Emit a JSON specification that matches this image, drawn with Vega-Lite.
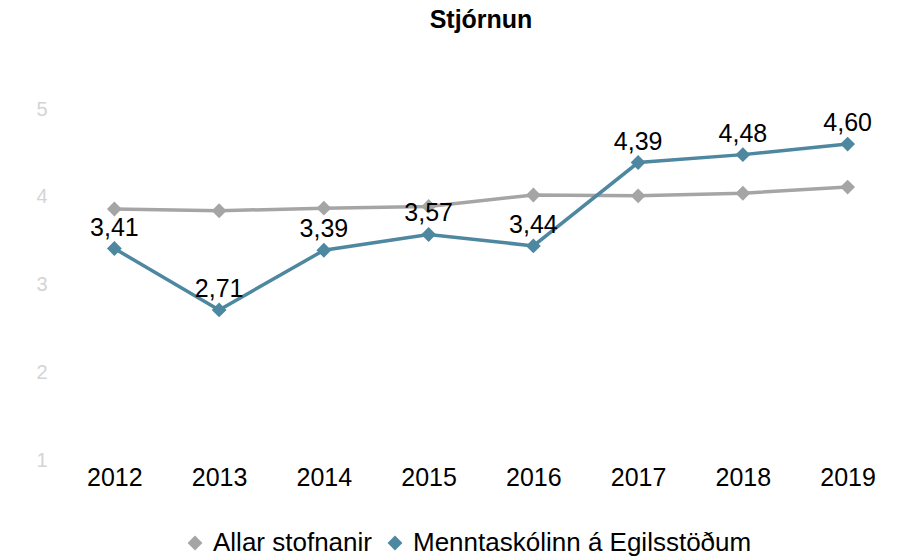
{
  "$schema": "https://vega.github.io/schema/vega-lite/v6.json",
  "width": 838,
  "height": 351,
  "autosize": {"type": "none"},
  "padding": {"left": 62, "top": 109, "right": 2, "bottom": 100},
  "config": {
    "view": {"stroke": null},
    "font": "Liberation Sans",
    "locale": {"number": {"decimal": ",", "thousands": ".", "grouping": [3], "currency": ["", " kr."]}}
  },
  "title": {"text": "Stjórnun", "fontSize": 25, "fontWeight": "bold", "color": "#000000", "anchor": "middle", "offset": 66},
  "data": {
    "values": [
      {"year": "2012", "series": "Allar stofnanir", "value": 3.86},
      {"year": "2013", "series": "Allar stofnanir", "value": 3.84},
      {"year": "2014", "series": "Allar stofnanir", "value": 3.87},
      {"year": "2015", "series": "Allar stofnanir", "value": 3.89},
      {"year": "2016", "series": "Allar stofnanir", "value": 4.02},
      {"year": "2017", "series": "Allar stofnanir", "value": 4.01},
      {"year": "2018", "series": "Allar stofnanir", "value": 4.04},
      {"year": "2019", "series": "Allar stofnanir", "value": 4.11},
      {"year": "2012", "series": "Menntaskólinn á Egilsstöðum", "value": 3.41},
      {"year": "2013", "series": "Menntaskólinn á Egilsstöðum", "value": 2.71},
      {"year": "2014", "series": "Menntaskólinn á Egilsstöðum", "value": 3.39},
      {"year": "2015", "series": "Menntaskólinn á Egilsstöðum", "value": 3.57},
      {"year": "2016", "series": "Menntaskólinn á Egilsstöðum", "value": 3.44},
      {"year": "2017", "series": "Menntaskólinn á Egilsstöðum", "value": 4.39},
      {"year": "2018", "series": "Menntaskólinn á Egilsstöðum", "value": 4.48},
      {"year": "2019", "series": "Menntaskólinn á Egilsstöðum", "value": 4.60}
    ]
  },
  "encoding": {
    "x": {
      "field": "year", "type": "ordinal",
      "scale": {"type": "point", "padding": 0.5},
      "axis": {"labelAngle": 0, "labelFontSize": 25, "labelColor": "#000000", "labelPadding": 5, "domain": false, "ticks": false, "grid": false, "title": null}
    },
    "y": {
      "field": "value", "type": "quantitative",
      "scale": {"domain": [1, 5], "nice": false, "zero": false},
      "axis": {"values": [1, 2, 3, 4, 5], "grid": false, "domain": false, "ticks": false, "labelColor": "#d4d4d4", "labelFontSize": 20, "labelPadding": 15, "title": null}
    },
    "color": {"field": "series", "type": "nominal",
      "scale": {"domain": ["Allar stofnanir", "Menntaskólinn á Egilsstöðum"], "range": ["#a5a5a5", "#4e87a0"]},
      "legend": {"orient": "none", "legendX": 120, "legendY": 421, "direction": "horizontal", "title": null, "labelFontSize": 26, "labelLimit": 600, "labelColor": "#000000", "symbolType": "diamond", "symbolSize": 220, "symbolOpacity": 1, "symbolStrokeWidth": 0, "columnPadding": 10, "labelOffset": 5}}
  },
  "layer": [
    {
      "mark": {"type": "line", "strokeWidth": 3.5}
    },
    {
      "mark": {"type": "point", "shape": "diamond", "filled": true, "size": 220, "opacity": 1}
    },
    {
      "transform": [{"filter": "datum.series === 'Menntaskólinn á Egilsstöðum'"}],
      "mark": {"type": "text", "fontSize": 25, "dy": -13, "baseline": "alphabetic"},
      "encoding": {"text": {"field": "value", "type": "quantitative", "format": ".2f"}, "color": {"value": "#000000"}}
    }
  ]
}
